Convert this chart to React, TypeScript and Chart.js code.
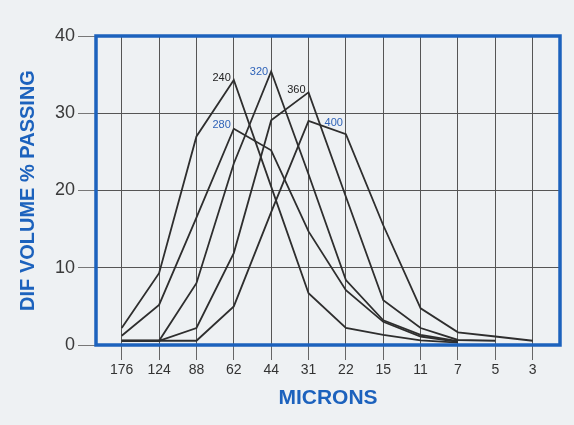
import React, { useEffect, useRef } from "react";
import { Chart, registerables } from "chart.js";

Chart.register(...registerables);

const categories = ["176", "124", "88", "62", "44", "31", "22", "15", "11", "7", "5", "3"];
const seriesNames = ["240", "280", "320", "360", "400"];
const s240 = [2.2, 9.3, 27.0, 34.3, 20.5, 6.7, 2.2, 1.3, 0.6, 0.3, null, null];
const s280 = [1.2, 5.2, 16.5, 28.0, 25.2, 14.7, 7.1, 3.0, 1.1, 0.4, null, null];
const s320 = [0.55, 0.55, 8.0, 23.5, 35.4, 22.1, 8.4, 3.2, 1.3, 0.5, null, null];
const s360 = [0.55, 0.55, 2.2, 11.9, 29.1, 32.7, 19.2, 5.8, 2.2, 0.65, 0.55, null];
const s400 = [0.55, 0.55, 0.55, 5.0, 17.2, 29.0, 27.3, 15.5, 4.75, 1.64, 1.1, 0.55];
const yTicks = [0, 10, 20, 30, 40];

// label anchor: index of point the label sits next to
const labelAnchors = [3, 3, 4, 5, 6];
const labelColors = ["#222222", "#2f63b8", "#2f63b8", "#222222", "#2f63b8"];
const labelOffsets = [[-3, -2], [-3, -4], [-3, 0], [-3, -2], [-3, -11]];

const FONT = "'Liberation Sans', Arial, Helvetica, sans-serif";
const BLUE = "#1c62bd";

export default function App() {
  const ref = useRef<HTMLCanvasElement | null>(null);

  useEffect(() => {
    const canvas = ref.current;
    if (!canvas) return;
    const allSeries = [s240, s280, s320, s360, s400];

    const framePlugin = {
      id: "frameAndLabels",
      beforeDraw(chart: any) {
        const ctx = chart.ctx;
        ctx.save();
        ctx.fillStyle = "#eef1f3";
        ctx.fillRect(0, 0, chart.width, chart.height);
        ctx.restore();
      },
      afterDraw(chart: any) {
        const ctx = chart.ctx;
        const a = chart.chartArea;
        ctx.save();
        ctx.strokeStyle = BLUE;
        ctx.lineWidth = 3.5;
        ctx.strokeRect(a.left, a.top, a.right - a.left, a.bottom - a.top);
        ctx.font = `11px ${FONT}`;
        ctx.textAlign = "right";
        ctx.textBaseline = "middle";
        seriesNames.forEach((name, i) => {
          const meta = chart.getDatasetMeta(i);
          const pt = meta.data[labelAnchors[i]];
          if (!pt) return;
          ctx.fillStyle = labelColors[i];
          ctx.fillText(name, pt.x + labelOffsets[i][0], pt.y + labelOffsets[i][1]);
        });
        ctx.restore();
      },
    };

    const chart = new Chart(canvas, {
      type: "line",
      data: {
        datasets: allSeries.map((vals, i) => ({
          label: seriesNames[i],
          data: vals
            .map((v, j) => (v === null ? null : { x: j, y: v }))
            .filter((p) => p !== null) as any,
          borderColor: "#2e2e2e",
          borderWidth: 1.8,
          pointRadius: 0,
          tension: 0,
          fill: false,
        })),
      },
      options: {
        animation: false,
        responsive: false,
        devicePixelRatio: 1,
        layout: { padding: { left: 0, right: 14, top: 36, bottom: 0 } },
        plugins: { legend: { display: false }, tooltip: { enabled: false } },
        scales: {
          x: {
            type: "linear",
            min: -0.688,
            max: 11.73,
            afterBuildTicks: (scale: any) => {
              scale.ticks = categories.map((_, i) => ({ value: i }));
            },
            afterFit: (scale: any) => {
              scale.height = 80;
            },
            ticks: {
              autoSkip: false,
              maxRotation: 0,
              padding: 2,
              color: "#333333",
              font: { family: FONT, size: 14 },
              callback: (v: any) => categories[Math.round(Number(v))] ?? "",
            },
            grid: { color: "#555555", lineWidth: 1, tickLength: 15, tickColor: "#666666" },
            border: { display: false },
            title: {
              display: true,
              text: "MICRONS",
              color: BLUE,
              font: { family: FONT, size: 21, weight: "bold" },
              padding: { top: 0, bottom: 14 },
            },
          },
          y: {
            min: 0,
            max: 40,
            afterBuildTicks: (scale: any) => {
              scale.ticks = yTicks.map((v) => ({ value: v }));
            },
            afterFit: (scale: any) => {
              scale.width = 96;
            },
            ticks: {
              padding: 3,
              color: "#3a3a3a",
              font: { family: FONT, size: 18 },
            },
            grid: { color: "#555555", lineWidth: 1, tickLength: 18, tickColor: "#777777" },
            border: { display: false },
            title: {
              display: true,
              text: "DIF VOLUME % PASSING",
              color: BLUE,
              font: { family: FONT, size: 20, weight: "bold" },
              padding: { top: 16, bottom: 0 },
            },
          },
        },
      },
      plugins: [framePlugin],
    });
    return () => chart.destroy();
  }, []);

  return (
    <div style={{ position: "absolute", left: 0, top: 0, width: 574, height: 425, background: "#eef1f3" }}>
      <canvas ref={ref} width={574} height={425} />
    </div>
  );
}
